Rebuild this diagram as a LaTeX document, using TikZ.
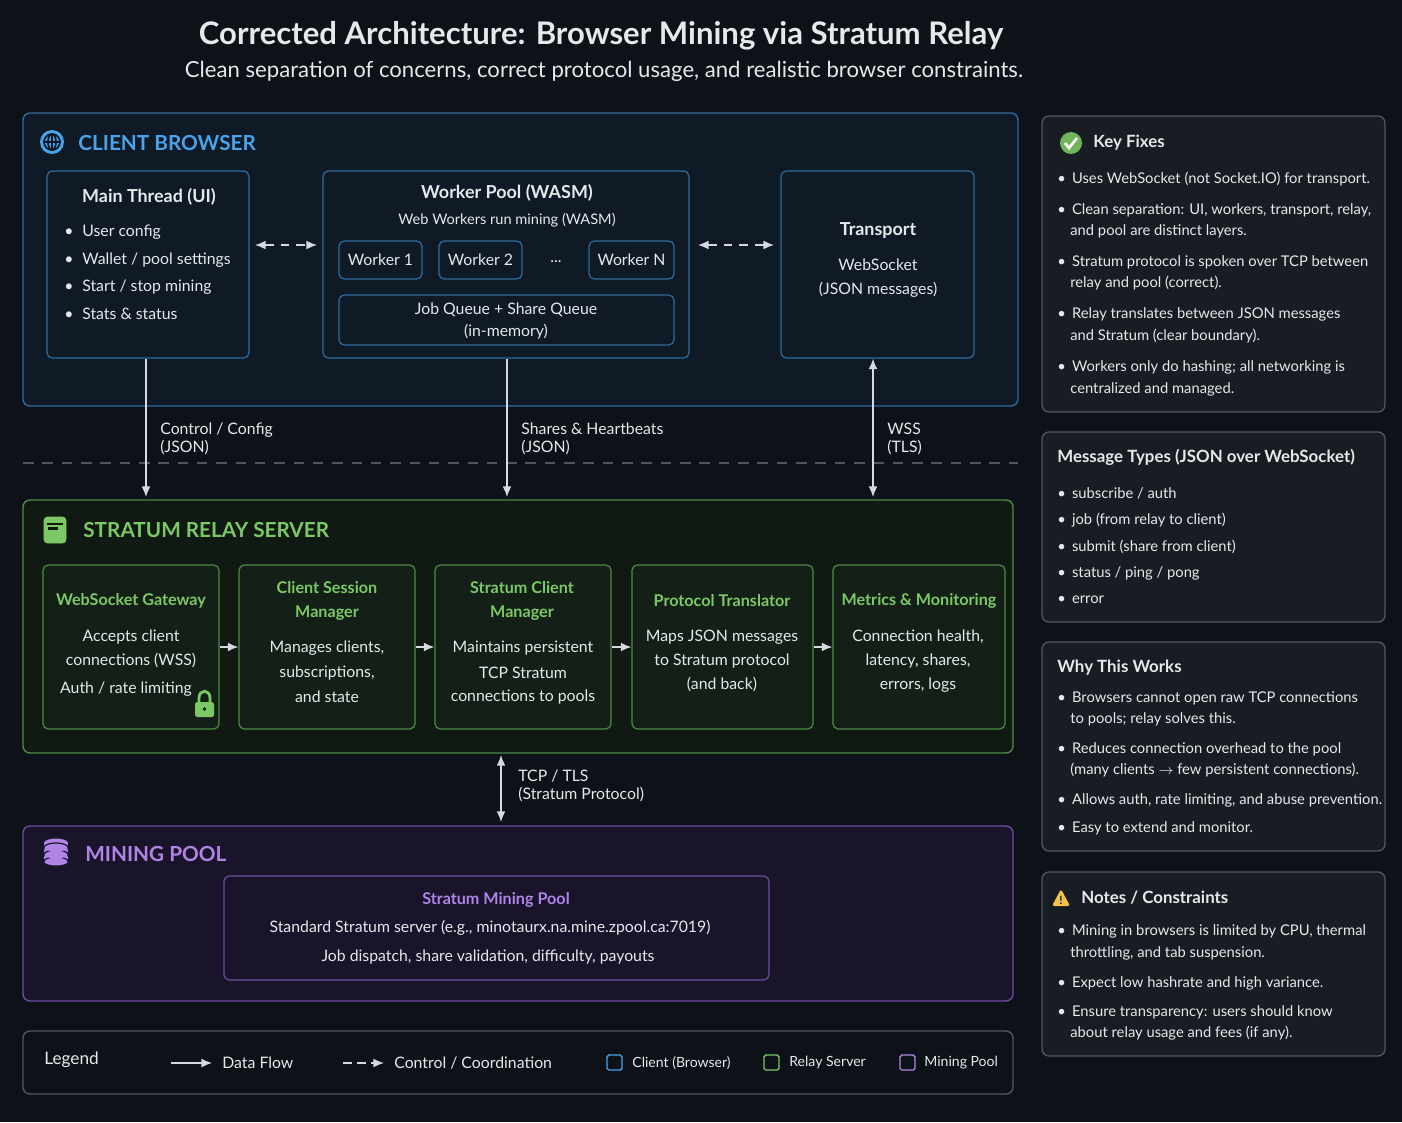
\documentclass[tikz,border=0pt]{standalone}
\usepackage{fontspec}
\setmainfont{Lato}
\usetikzlibrary{arrows.meta}
\definecolor{bg}{HTML}{0D1218}
\definecolor{txt}{HTML}{E6E8EB}
\definecolor{cb}{HTML}{4AA3EA}
\definecolor{cbb}{HTML}{2F6A9E}
\definecolor{cbf}{HTML}{0F1A26}
\definecolor{cg}{HTML}{7CC866}
\definecolor{cgb}{HTML}{4E8A45}
\definecolor{cgf}{HTML}{101A12}
\definecolor{cgc}{HTML}{142017}
\definecolor{cp}{HTML}{B084E6}
\definecolor{cpb}{HTML}{6B4C9E}
\definecolor{cpf}{HTML}{19142A}
\definecolor{gb}{HTML}{50565E}
\definecolor{gf}{HTML}{181D23}
\definecolor{arr}{HTML}{D6D9DD}
\definecolor{warn}{HTML}{F2C14E}
\newcommand{\bx}[7]{% name x1 y1 x2 y2 style text
  \pgfmathsetmacro{\bxw}{(#4-#2)*0.02}\pgfmathsetmacro{\bxh}{(#5-#3)*0.02}
  \node[#6,minimum width=\bxw cm,minimum height=\bxh cm,inner sep=0pt] (#1) at ({(#2+#4)/2},{(#3+#5)/2}) {#7};}
\begin{document}
\begin{tikzpicture}[x=0.02cm,y=-0.02cm,font=\fontsize{9}{10}\selectfont,text=txt,
  panel/.style={draw,rounded corners=4pt,line width=0.8pt},
  card/.style={draw,rounded corners=3pt,line width=0.7pt},
  tx/.style={inner sep=0pt,anchor=west,text=txt},
  tc/.style={inner sep=0pt,anchor=center,text=txt},
  flow/.style={-{Latex[length=6pt,width=5pt]},draw=arr,line width=0.8pt},
  flow2/.style={{Latex[length=6pt,width=5pt]}-{Latex[length=6pt,width=5pt]},draw=arr,line width=0.8pt},
  ctl/.style={{Latex[length=6pt,width=5pt]}-{Latex[length=6pt,width=5pt]},draw=arr,line width=0.8pt,dash pattern=on 5pt off 4pt},
  hd/.style={inner sep=0pt,anchor=west,font=\fontsize{11.8}{13}\selectfont\bfseries},
  ct/.style={inner sep=0pt,align=center,font=\fontsize{9.2}{13.5}\selectfont\bfseries},
  rt/.style={inner sep=0pt,anchor=west,font=\fontsize{9.6}{12}\selectfont\bfseries,text=txt},
  rl/.style={inner sep=0pt,anchor=west,text=txt,font=\fontsize{8.4}{10}\selectfont}]
\fill[bg] (0,0) rectangle (1402,1122);
\useasboundingbox (0,0) rectangle (1402,1122);
% title
\node[tc,font=\fontsize{17.7}{20}\selectfont\bfseries] (title) at (601,36) {Corrected Architecture: Browser Mining via Stratum Relay};
\node[tc,font=\fontsize{12.6}{14}\selectfont] (subtitle) at (604,71) {Clean separation of concerns, correct protocol usage, and realistic browser constraints.};
% ---------- client
\bx{client}{23}{113}{1018}{406}{panel,draw=cbb,fill=cbf}{}
\fill[cb] (52,142) circle (12);
\begin{scope}[draw=cbf,line width=1pt]
\draw (52,142) circle (8); \draw (52,134) -- (52,150); \draw (44,142) -- (60,142);
\draw (52,142) ellipse (4 and 8);
\end{scope}
\node[hd,text=cb] (clientT) at (78,143) {CLIENT BROWSER};
\bx{main}{47}{171}{249}{358}{card,draw=cbb,fill=cbf}{}
\node[tc,font=\fontsize{10.2}{12}\selectfont\bfseries] (mainT) at (149,197) {Main Thread (UI)};
\foreach \yy/\t in {232/{User config},260/{Wallet / pool settings},287/{Start / stop mining},314/{Stats \& status}}
  \node[tx] at (64,\yy) {•\hspace{5pt}\t};
\bx{pool}{323}{171}{689}{358}{card,draw=cbb,fill=cbf}{}
\node[tc,font=\fontsize{10.2}{12}\selectfont\bfseries] (poolT) at (507,193) {Worker Pool (WASM)};
\node[tc,font=\fontsize{8.3}{10}\selectfont] (poolS) at (507,220) {Web Workers run mining (WASM)};
\bx{w1}{339}{241}{422}{279}{card,draw=cbb,fill=cbf}{Worker 1}
\bx{w2}{439}{241}{522}{279}{card,draw=cbb,fill=cbf}{Worker 2}
\node[tc] (dots) at (556,262) {...};
\bx{wn}{589}{241}{674}{279}{card,draw=cbb,fill=cbf}{Worker N}
\bx{jq}{339}{295}{674}{345}{card,draw=cbb,fill=cbf}{}
\node[tc] (jq1) at (506,310) {Job Queue + Share Queue};
\node[tc] (jq2) at (506,332) {(in-memory)};
\bx{trans}{781}{171}{974}{358}{card,draw=cbb,fill=cbf}{}
\node[tc,font=\fontsize{10.2}{12}\selectfont\bfseries] (transT) at (878,231) {Transport};
\node[tc] at (878,265) {WebSocket};
\node[tc] at (878,290) {(JSON messages)};
\coordinate (d1a) at (255,245); \coordinate (d1b) at (317,245);
\draw[ctl] (d1a) -- (d1b);
\coordinate (d2a) at (698,245); \coordinate (d2b) at (774,245);
\draw[ctl] (d2a) -- (d2b);
% divider
\coordinate (dl1) at (23,463); \coordinate (dl2) at (1018,463);
\draw[gb,line width=0.8pt,dash pattern=on 6pt off 5pt] (dl1) -- (dl2);
% ---------- relay
\bx{relay}{23}{500}{1013}{753}{panel,draw=cgb,fill=cgf}{}
\draw[cg,fill=cg,rounded corners=2pt] (44,517) rectangle (66,543);
\draw[cgf,line width=0.8pt] (47,524) -- (63,524);
\fill[cgf] (48,527) rectangle (58,530);
\node[hd,text=cg] (relayT) at (83,530) {STRATUM RELAY SERVER};
\bx{c1}{43}{565}{219}{729}{card,draw=cgb,fill=cgc}{}
\bx{c2}{239}{565}{415}{729}{card,draw=cgb,fill=cgc}{}
\bx{c3}{435}{565}{611}{729}{card,draw=cgb,fill=cgc}{}
\bx{c4}{632}{565}{813}{729}{card,draw=cgb,fill=cgc}{}
\bx{c5}{833}{565}{1005}{729}{card,draw=cgb,fill=cgc}{}
\node[ct,text=cg] at (131,601) {WebSocket Gateway};
\node[tc] at (131,637) {Accepts client};
\node[tc] at (131,661) {connections (WSS)};
\node[tc] at (126,689) {Auth / rate limiting};
\draw[cg,line width=1.6pt] (199,704) -- (199,698) .. controls (199,689) and (210,689) .. (210,698) -- (210,704);
\fill[cg,rounded corners=1pt] (195,702) rectangle (214,717);
\fill[cgf] (204.5,709) circle (1.8);
\node[ct,text=cg] at (327,601) {Client Session\\Manager};
\node[tc] at (327,648) {Manages clients,};
\node[tc] at (327,673) {subscriptions,};
\node[tc] at (327,697) {and state};
\node[ct,text=cg] at (522,601) {Stratum Client\\Manager};
\node[tc] at (523,648) {Maintains persistent};
\node[tc] at (523,673) {TCP Stratum};
\node[tc] at (523,697) {connections to pools};
\node[ct,text=cg] at (722,601) {Protocol Translator};
\node[tc] at (722,637) {Maps JSON messages};
\node[tc] at (722,661) {to Stratum protocol};
\node[tc] at (722,685) {(and back)};
\node[ct,text=cg] at (919,601) {Metrics \& Monitoring};
\node[tc] at (918,637) {Connection health,};
\node[tc] at (918,661) {latency, shares,};
\node[tc] at (918,685) {errors, logs};
\draw[flow] (c1.east) -- (c2.west);
\draw[flow] (c2.east) -- (c3.west);
\draw[flow] (c3.east) -- (c4.west);
\draw[flow] (c4.east) -- (c5.west);
% vertical connections
\coordinate (r1) at (146,497); \coordinate (r2) at (507,497); \coordinate (r3) at (873,497);
\draw[flow] (main.south -| r1) -- (r1);
\draw[flow] (pool.south -| r2) -- (r2);
\draw[flow2] (trans.south -| r3) -- (r3);
\node[tx,align=left] at (160,439) {Control / Config\\(JSON)};
\node[tx,align=left] at (521,439) {Shares \& Heartbeats\\(JSON)};
\node[tx,align=left] at (887,439) {WSS\\(TLS)};
% ---------- pool
\bx{mpool}{23}{826}{1013}{1001}{panel,draw=cpb,fill=cpf}{}
\coordinate (t1) at (501,755); \coordinate (t2) at (501,822);
\draw[flow2] (t1) -- (t2);
\node[tx,align=left] at (518,786) {TCP / TLS\\(Stratum Protocol)};
\foreach \yy in {861,854,847}{\fill[cp] (56,\yy) ellipse (12 and 4.5); \fill[cp] (44,\yy-4) rectangle (68,\yy); \fill[cp] (56,\yy-4) ellipse (12 and 4.5); \draw[cpf,line width=0.7pt] (44,\yy+0.5) arc (180:360:12 and 4.5);}
\node[hd,text=cp] (poolTitle) at (85,854) {MINING POOL};
\bx{smp}{224}{876}{769}{980}{card,draw=cpb,fill=cpf}{}
\node[ct,text=cp] at (496,900) {Stratum Mining Pool};
\node[tc] at (490,928) {Standard Stratum server (e.g., minotaurx.na.mine.zpool.ca:7019)};
\node[tc] at (488,957) {Job dispatch, share validation, difficulty, payouts};
% ---------- legend
\bx{legend}{23}{1031}{1013}{1094}{panel,draw=gb,fill=bg}{}
\node[tx,font=\fontsize{9.8}{12}\selectfont] at (44,1060) {Legend};
\coordinate (l1) at (171,1063); \coordinate (l2) at (212,1063);
\draw[flow] (l1) -- (l2);
\node[tx] at (222,1063) {Data Flow};
\coordinate (l3) at (343,1063); \coordinate (l4) at (384,1063);
\draw[flow,dash pattern=on 5pt off 3pt] (l3) -- (l4);
\node[tx] at (394,1063) {Control / Coordination};
\draw[cb,line width=0.8pt,rounded corners=1pt] (607,1055) rectangle (622,1070);
\node[tx,font=\fontsize{8}{10}\selectfont] at (632,1063) {Client (Browser)};
\draw[cg,line width=0.8pt,rounded corners=1pt] (764,1055) rectangle (779,1070);
\node[tx,font=\fontsize{8}{10}\selectfont] at (789,1063) {Relay Server};
\draw[cp,line width=0.8pt,rounded corners=1pt] (900,1055) rectangle (915,1070);
\node[tx,font=\fontsize{8}{10}\selectfont] at (924,1063) {Mining Pool};
% ---------- right panels
\bx{kf}{1042}{116}{1385}{412}{panel,draw=gb,fill=gf}{}
\fill[cg!90!black] (1071,143) circle (11);
\draw[white,line width=1.5pt] (1065,143) -- (1069,148) -- (1077,138);
\node[rt] at (1093,143) {Key Fixes};
\foreach \yy/\t in {179/{Uses WebSocket (not Socket.IO) for transport.},210/{Clean separation: UI, workers, transport, relay,},262/{Stratum protocol is spoken over TCP between},314/{Relay translates between JSON messages},367/{Workers only do hashing; all networking is}}
  \node[rl] at (1057,\yy) {•\hspace{3.5pt}\t};
\foreach \yy/\t in {231/{and pool are distinct layers.},283/{relay and pool (correct).},336/{and Stratum (clear boundary).},389/{centralized and managed.}}
  \node[rl] at (1070,\yy) {\t};
\bx{mt}{1042}{432}{1385}{622}{panel,draw=gb,fill=gf}{}
\node[rt] at (1057,457) {Message Types (JSON over WebSocket)};
\foreach \yy/\t in {493/{subscribe / auth},520/{job (from relay to client)},547/{submit (share from client)},573/{status / ping / pong},600/{error}}
  \node[rl] at (1057,\yy) {•\hspace{3.5pt}\t};
\bx{ww}{1042}{642}{1385}{851}{panel,draw=gb,fill=gf}{}
\node[rt] at (1057,668) {Why This Works};
\foreach \yy/\t in {698/{Browsers cannot open raw TCP connections},749/{Reduces connection overhead to the pool},800/{Allows auth, rate limiting, and abuse prevention.},828/{Easy to extend and monitor.}}
  \node[rl] at (1057,\yy) {•\hspace{3.5pt}\t};
\node[rl] at (1070,719) {to pools; relay solves this.};
\node[rl] at (1070,770) {(many clients $\rightarrow$ few persistent connections).};
\bx{nc}{1042}{872}{1385}{1056}{panel,draw=gb,fill=gf}{}
\fill[warn,rounded corners=1pt] (1052,906) -- (1061,889) -- (1070,906) -- cycle;
\node[tc,font=\fontsize{6.5}{7}\selectfont\bfseries,text=gf] at (1061,900) {!};
\node[rt] at (1081,898) {Notes / Constraints};
\foreach \yy/\t in {931/{Mining in browsers is limited by CPU, thermal},983/{Expect low hashrate and high variance.},1012/{Ensure transparency: users should know}}
  \node[rl] at (1057,\yy) {•\hspace{3.5pt}\t};
\node[rl] at (1070,953) {throttling, and tab suspension.};
\node[rl] at (1070,1033) {about relay usage and fees (if any).};
\end{tikzpicture}
\end{document}
